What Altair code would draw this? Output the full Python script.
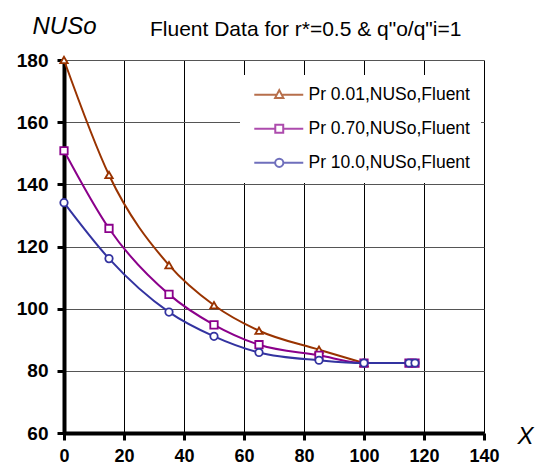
import altair as alt
import pandas as pd

series = ["Pr 0.01,NUSo,Fluent", "Pr 0.70,NUSo,Fluent", "Pr 10.0,NUSo,Fluent"]
colors = ["#993300", "#8B008B", "#3333A0"]
plot_shapes = ["triangle-up", "square", "circle"]

x_tri = [0, 15, 35, 50, 65, 85, 100]
y_tri = [180, 143.0, 114.0, 101.1, 92.9, 86.8, 82.5]
x_sq = [0, 15, 35, 50, 65, 85, 100, 115, 117]
y_sq = [150.8, 125.8, 104.6, 94.8, 88.4, 85.0, 82.5, 82.5, 82.5]
x_ci = [0, 15, 35, 50, 65, 85, 100, 115, 117]
y_ci = [134.1, 116.1, 98.9, 91.1, 85.9, 83.4, 82.5, 82.5, 82.5]

x_ticks = [0, 20, 40, 60, 80, 100, 120, 140]
y_ticks = [60, 80, 100, 120, 140, 160, 180]

title_text = 'Fluent Data for r*=0.5 & q"o/q"i=1'

frames = []
for name, xs, ys in zip(series, [x_tri, x_sq, x_ci], [y_tri, y_sq, y_ci]):
    frames.append(pd.DataFrame({"x": xs, "y": ys, "series": name}))
df = pd.concat(frames, ignore_index=True)

FONT = "Liberation Sans"

xenc = alt.X(
    "x:Q",
    scale=alt.Scale(domain=[0, 140], nice=False, zero=False),
    axis=alt.Axis(
        values=x_ticks, grid=True, gridColor="black", gridWidth=1,
        domainColor="black", domainWidth=4, tickColor="black", tickWidth=3,
        tickSize=7, labelFont=FONT, labelFontSize=18, labelFontWeight="bold",
        labelColor="black", labelPadding=7, labelFlush=False,
        title="X", titleFont=FONT, titleFontStyle="italic", titleFontSize=24,
        titleFontWeight="normal", titleColor="black", titleX=461, titleY=10,
        titleAlign="center", titleBaseline="alphabetic",
    ),
)
yenc = alt.Y(
    "y:Q",
    scale=alt.Scale(domain=[60, 180], nice=False, zero=False),
    axis=alt.Axis(
        values=y_ticks, grid=True, gridColor="#555555", gridWidth=1,
        domainColor="black", domainWidth=4, tickColor="black", tickWidth=3,
        tickSize=7, labelFont=FONT, labelFontSize=19, labelFontWeight="bold",
        labelColor="black", labelPadding=9, labelFlush=False,
        title="NUSo", titleFont=FONT, titleFontStyle="italic", titleFontSize=24,
        titleFontWeight="normal", titleColor="black", titleAngle=0,
        titleX=0, titleY=-27, titleAlign="center", titleBaseline="alphabetic",
    ),
)

layers = []
for name, col, shp in zip(series, colors, plot_shapes):
    sub = alt.Chart(df).transform_filter(alt.datum.series == name)
    layers.append(
        sub.mark_line(color=col, strokeWidth=2, interpolate="monotone").encode(x=xenc, y=yenc)
    )
for name, col, shp in zip(series, colors, plot_shapes):
    sub = alt.Chart(df).transform_filter(alt.datum.series == name)
    layers.append(
        sub.mark_point(shape=shp, filled=True, fill="white", stroke=col,
                       strokeWidth=1.8, size=55, opacity=1).encode(x=xenc, y=yenc)
    )

# legend symbols: line with marker (custom paths)
legend_paths = [
    "M-0.73,0L2.27,0M2.93,0L5.8,0M2.6,-0.62L3.15,0.42L2.05,0.42Z",
    "M-0.73,0L2.07,0M3.13,0L5.8,0M2.07,-0.53L3.13,-0.53L3.13,0.53L2.07,0.53Z",
    "M-0.73,0L2.05,0M3.15,0L5.8,0M3.15,0A0.55,0.55,0,1,1,2.05,0A0.55,0.55,0,1,1,3.15,0Z",
]
leg = alt.Legend(
    title=None, orient="none", legendX=176, legendY=15, fillColor="white",
    padding=11, symbolSize=225, symbolStrokeWidth=2, labelFont=FONT,
    labelFontSize=17.5, labelColor="black", labelOffset=40, rowPadding=15,
    labelLimit=400,
)
legend_layer = alt.Chart(df).transform_filter("datum.x > 1000").mark_point(
    filled=False, strokeWidth=2, clip=True
).encode(
    x=xenc, y=yenc,
    color=alt.Color("series:N", scale=alt.Scale(domain=series, range=colors), legend=leg),
    shape=alt.Shape("series:N", scale=alt.Scale(domain=series, range=legend_paths), legend=leg),
)
layers.append(legend_layer)

title_layer = alt.Chart(pd.DataFrame({"t": [title_text]})).mark_text(
    align="left", baseline="alphabetic", font=FONT, fontSize=21, color="black"
).encode(text="t:N", x=alt.value(86), y=alt.value(-24))
layers.append(title_layer)

chart = alt.layer(*layers).properties(
    width=420, height=373,
    autosize=alt.AutoSizeParams(type="none"),
    padding={"left": 56, "top": 52, "right": 52, "bottom": 33},
).configure_view(stroke=None)

chart.save("out.html", embed_options={"renderer": "svg", "actions": False})
